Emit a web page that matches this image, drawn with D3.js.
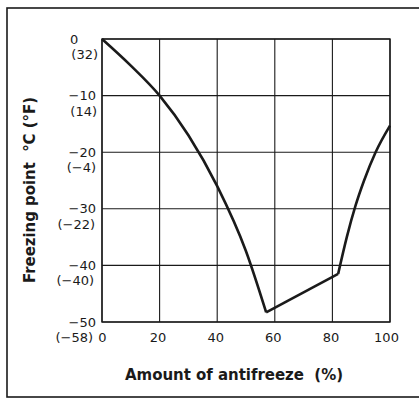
<!DOCTYPE html>
<html>
<head>
<meta charset="utf-8">
<script src="https://cdn.jsdelivr.net/npm/d3@7"></script>
<style>
  body { margin: 0; background: #fff; }
  text { font-family: "DejaVu Sans", "Liberation Sans", Arial, sans-serif; fill: #1a1a1a; }
</style>
</head>
<body>
<svg id="chart"></svg>
<script>
// freezing point curve (% antifreeze, °C)
var leftBranch = [[0, 0], [10, -4.7], [20, -10], [30, -17], [40, -26], [50, -37.5], [57, -48.3]]
var middleBranch = [[57, -48.3], [82, -41.5]]
var rightBranch = [[82, -41.5], [85, -35], [88, -29.5], [91, -25], [95, -20], [100, -15.3]]

var xTicks = [0, 20, 40, 60, 80, 100]
var yTicksC = [0, -10, -20, -30, -40, -50]
var yTicksF = ["(32)", "(14)", "(\u22124)", "(\u221222)", "(\u221240)", "(\u221258)"]

var W = 419, H = 401
var margin = {top: 39, right: 29, bottom: 79, left: 102}
var width = W - margin.left - margin.right
var height = H - margin.top - margin.bottom

var svg = d3.select("#chart")
    .attr("width", W)
    .attr("height", H)

// outer frame
svg.append("rect")
    .attr("x", 7).attr("y", 8)
    .attr("width", 420).attr("height", 389)
    .attr("fill", "none")
    .attr("stroke", "#1a1a1a")
    .attr("stroke-width", 1.6)

var g = svg.append("g")
    .attr("transform", "translate(" + margin.left + "," + margin.top + ")")

var x = d3.scaleLinear().domain([0, 100]).range([0, width])
var y = d3.scaleLinear().domain([-50, 0]).range([height, 0])

// grid
g.append("g")
    .selectAll("line")
    .data(yTicksC)
    .enter().append("line")
    .attr("x1", 0).attr("x2", width)
    .attr("y1", d => y(d)).attr("y2", d => y(d))
    .attr("stroke", "#1a1a1a").attr("stroke-width", 1.1)

g.append("g")
    .selectAll("line")
    .data(xTicks)
    .enter().append("line")
    .attr("y1", 0).attr("y2", height)
    .attr("x1", d => x(d)).attr("x2", d => x(d))
    .attr("stroke", "#1a1a1a").attr("stroke-width", 1.1)

g.append("rect")
    .attr("width", width).attr("height", height)
    .attr("fill", "none")
    .attr("stroke", "#1a1a1a").attr("stroke-width", 1.4)

// x axis labels
var xAxis = g.append("g")
    .attr("transform", "translate(0," + height + ")")
    .call(d3.axisBottom(x).tickValues(xTicks).tickSize(0).tickPadding(11))
xAxis.select(".domain").remove()
xAxis.selectAll("text")
    .attr("font-size", 13)
    .attr("font-family", "DejaVu Sans, sans-serif")
    .attr("fill", "#1a1a1a")
    .attr("dx", d => d === 0 ? 0 : d === 100 ? -4 : -2)

// y axis labels, °C on the line and °F underneath
var yl = g.append("g")
yl.selectAll("text.c")
    .data(yTicksC)
    .enter().append("text")
    .attr("class", "c")
    .attr("x", d => d === 0 ? -32 : -6)
    .attr("y", d => y(d))
    .attr("dy", "0.35em")
    .attr("text-anchor", d => d === 0 ? "start" : "end")
    .attr("font-size", 13)
    .text(d => d === 0 ? "0" : "\u2212" + Math.abs(d))

yl.selectAll("text.f")
    .data(yTicksC)
    .enter().append("text")
    .attr("class", "f")
    .attr("x", (d, i) => -4 - i)
    .attr("y", d => y(d) + 20)
    .attr("text-anchor", "end")
    .attr("font-size", 13)
    .text((d, i) => yTicksF[i])

// curve
var line = d3.line()
    .x(d => x(d[0]))
    .y(d => y(d[1]))

var curve = g.append("g")
    .attr("fill", "none")
    .attr("stroke", "#1a1a1a")
    .attr("stroke-width", 2.6)
    .attr("stroke-linejoin", "round")

curve.append("path").attr("d", line.curve(d3.curveMonotoneX)(leftBranch))
curve.append("path").attr("d", line.curve(d3.curveLinear)(middleBranch))
curve.append("path").attr("d", line.curve(d3.curveMonotoneX)(rightBranch))

// titles
svg.append("text")
    .attr("x", 125).attr("y", 380)
    .attr("font-size", 15)
    .attr("font-weight", "bold")
    .attr("textLength", 218)
    .attr("lengthAdjust", "spacing")
    .attr("xml:space", "preserve")
    .text("Amount of antifreeze  (%)")

svg.append("text")
    .attr("transform", "translate(35,283) rotate(-90)")
    .attr("font-size", 15)
    .attr("font-weight", "bold")
    .attr("textLength", 186)
    .attr("lengthAdjust", "spacing")
    .attr("xml:space", "preserve")
    .text("Freezing point  \u00b0C (\u00b0F)")
</script>
</body>
</html>
